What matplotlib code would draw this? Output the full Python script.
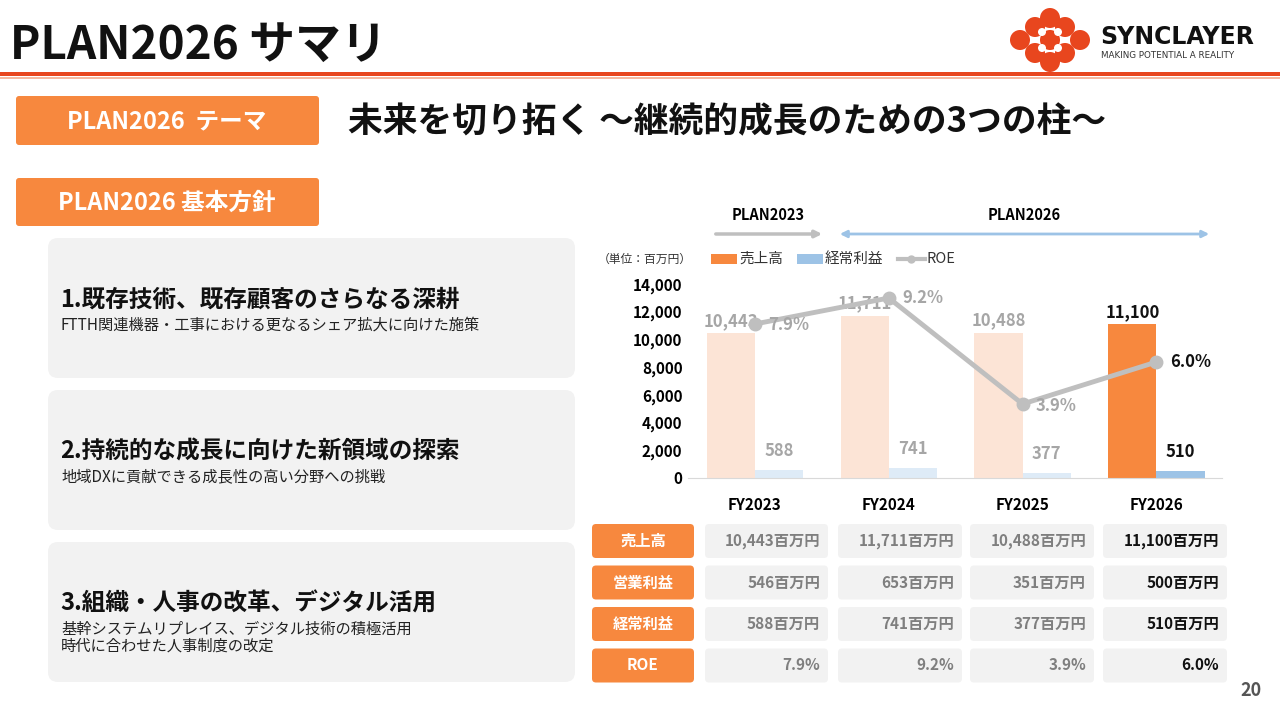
import matplotlib
matplotlib.use("Agg")
import matplotlib.pyplot as plt
from matplotlib.patches import FancyBboxPatch, Rectangle, Circle
import numpy as np

plt.rcParams['font.family'] = ['Noto Sans CJK JP', 'DejaVu Sans']

years = ["FY2023", "FY2024", "FY2025", "FY2026"]
sales = [10443, 11711, 10488, 11100]
ordinary = [588, 741, 377, 510]
roe = [7.9, 9.2, 3.9, 6.0]
table_labels = ["売上高", "営業利益", "経常利益", "ROE"]
table_vals = [["10,443百万円", "11,711百万円", "10,488百万円", "11,100百万円"],
              ["546百万円", "653百万円", "351百万円", "500百万円"],
              ["588百万円", "741百万円", "377百万円", "510百万円"],
              ["7.9%", "9.2%", "3.9%", "6.0%"]]
policies = [("1.既存技術、既存顧客のさらなる深耕", ["FTTH関連機器・工事における更なるシェア拡大に向けた施策"]),
            ("2.持続的な成長に向けた新領域の探索", ["地域DXに貢献できる成長性の高い分野への挑戦"]),
            ("3.組織・人事の改革、デジタル活用", ["基幹システムリプレイス、デジタル技術の積極活用", "時代に合わせた人事制度の改定"])]

W, H = 1280, 720
fig = plt.figure(figsize=(12.8, 7.2), dpi=100)
bg = fig.add_axes([0, 0, 1, 1])
bg.set_xlim(0, W); bg.set_ylim(H, 0); bg.axis('off')

ORANGE = '#F7883E'
RED = '#E8461E'

def rbox(x0, y0, x1, y1, color, r=6, ax=bg):
    ax.add_patch(FancyBboxPatch((x0 + r, y0 + r), x1 - x0 - 2 * r, y1 - y0 - 2 * r,
                                boxstyle=f"round,pad={r}", fc=color, ec='none'))

# header
bg.text(10, 46, "PLAN2026 サマリ", fontsize=33, fontweight='bold', va='center', color='#111')
bg.add_patch(Rectangle((0, 72), W, 4, color=RED, lw=0))
bg.add_patch(Rectangle((0, 77), W, 1.5, color='#F6B8A0', lw=0))
# logo
for (cx, cy) in [(1050, 40), (1035, 27), (1065, 27), (1035, 53), (1065, 53), (1020, 40), (1080, 40), (1050, 18), (1050, 62)]:
    bg.add_patch(Circle((cx, cy), 10, color=RED, lw=0))
for (cx, cy) in [(1042, 32), (1058, 32), (1042, 48), (1058, 48)]:
    bg.add_patch(Circle((cx, cy), 4, color='white', lw=0))
bg.text(1100, 37, "SYNCLAYER", fontsize=17, fontweight='bold', va='center', color='#111', family='DejaVu Sans')
bg.text(1101, 56, "MAKING POTENTIAL A REALITY", fontsize=6.3, va='center', color='#333', family='DejaVu Sans')

# theme
rbox(16, 96, 319, 145, ORANGE, r=3)
bg.text(167, 121, "PLAN2026  テーマ", fontsize=17, fontweight='bold', color='white', ha='center', va='center')
bg.text(348, 122, "未来を切り拓く ～継続的成長のための3つの柱～", fontsize=25, fontweight='bold', va='center', color='#111')
rbox(16, 178, 319, 226, ORANGE, r=3)
bg.text(167, 203, "PLAN2026 基本方針", fontsize=17, fontweight='bold', color='white', ha='center', va='center')

# policy boxes
for i, (title, subs) in enumerate(policies):
    y0 = 238 + i * 152
    rbox(48, y0, 575, y0 + 140, '#F2F2F2', r=10)
    ty = y0 + 62
    bg.text(60, ty, title, fontsize=17, fontweight='bold', va='center', color='#111')
    for j, s in enumerate(subs):
        bg.text(61, ty + 25 + 17 * j, s, fontsize=11, va='center', color='#222')

# plan arrows
bg.text(768, 215, "PLAN2023", fontsize=10.5, fontweight='bold', ha='center', va='center')
bg.text(1024, 215, "PLAN2026", fontsize=10.5, fontweight='bold', ha='center', va='center')
bg.annotate("", xy=(825, 234), xytext=(713, 234),
            arrowprops=dict(arrowstyle='-|>', color='#BFBFBF', lw=2.5, mutation_scale=10))
bg.annotate("", xy=(1212, 234), xytext=(837, 234),
            arrowprops=dict(arrowstyle='<|-|>', color='#9DC3E6', lw=2, mutation_scale=10))

# legend
bg.text(598, 259, "（単位：百万円）", fontsize=8.5, va='center', color='#333')
bg.add_patch(Rectangle((711, 254), 26, 10, color=ORANGE, lw=0))
bg.text(739, 259, "売上高", fontsize=10.5, va='center', color='#333')
bg.add_patch(Rectangle((797, 254), 26, 10, color='#9DC3E6', lw=0))
bg.text(825, 259, "経常利益", fontsize=10.5, va='center', color='#333')
bg.plot([898, 925], [259, 259], color='#BFBFBF', lw=3)
bg.plot([911], [259], 'o', color='#BFBFBF', ms=5)
bg.text(927, 259, "ROE", fontsize=10.5, va='center', color='#333')

# chart
left, right, top, bot = 688, 1222, 284, 478
ax = fig.add_axes([left / W, 1 - bot / H, (right - left) / W, (bot - top) / H])
ax.patch.set_alpha(0)
x = np.arange(len(years))
bw = 0.36
sc = ['#FCE4D6'] * 3 + [ORANGE]
oc = ['#DEEBF7'] * 3 + ['#9DC3E6']
ax.bar(x - bw / 2, sales, bw, color=sc)
ax.bar(x + bw / 2, ordinary, bw, color=oc)
ax.set_xlim(-0.5, 3.49)
ax.set_ylim(0, 14000)
ax.set_yticks(range(0, 14001, 2000))
ax.set_yticklabels([f"{v:,}" for v in range(0, 14001, 2000)], fontsize=11, fontweight='bold')
ax.set_xticks(x)
ax.set_xticklabels(years, fontsize=11, fontweight='bold')
ax.tick_params(length=0, pad=14, axis='x')
ax.tick_params(length=0, pad=4, axis='y')
for s in ['top', 'right', 'left']:
    ax.spines[s].set_visible(False)
ax.spines['bottom'].set_color('#D9D9D9')
for i in range(4):
    c = '#A6A6A6' if i < 3 else '#111'
    ax.text(x[i] - bw / 2, sales[i] + 250, f"{sales[i]:,}", ha='center', va='bottom', fontsize=12, fontweight='bold', color=c)
    ax.text(x[i] + bw / 2, ordinary[i] + 700, f"{ordinary[i]:,}", ha='center', va='bottom', fontsize=12, fontweight='bold', color=c)
ax2 = ax.twinx()
ax2.set_ylim(0.2, 9.9)
ax2.axis('off')
ax2.plot(x, roe, color='#BFBFBF', lw=3.5, marker='o', ms=9)
offs = [(0.1, -0.05), (0.1, 0.0), (0.1, -0.1), (0.1, 0.0)]
for i in range(4):
    c = '#A6A6A6' if i < 3 else '#111'
    ax2.text(x[i] + offs[i][0], roe[i] + offs[i][1], f"{roe[i]:.1f}%", ha='left', va='center', fontsize=12, fontweight='bold', color=c)

# table
cols = [(705, 828), (838, 962), (970, 1094), (1103, 1227)]
for r in range(4):
    yc = 541 + r * 41.5
    rbox(592, yc - 17, 694, yc + 17, ORANGE, r=4)
    bg.text(643, yc, table_labels[r], fontsize=11, fontweight='bold', color='white', ha='center', va='center')
    for c in range(4):
        x0, x1 = cols[c]
        rbox(x0, yc - 17, x1, yc + 17, '#F2F2F2', r=4)
        col = '#7F7F7F' if c < 3 else '#111'
        bg.text(x1 - 8, yc, table_vals[r][c], fontsize=11, fontweight='bold', color=col, ha='right', va='center')

bg.text(1262, 690, "20", fontsize=13, fontweight='bold', color='#555', ha='right', va='center')

fig.savefig("out.png", dpi=100)
